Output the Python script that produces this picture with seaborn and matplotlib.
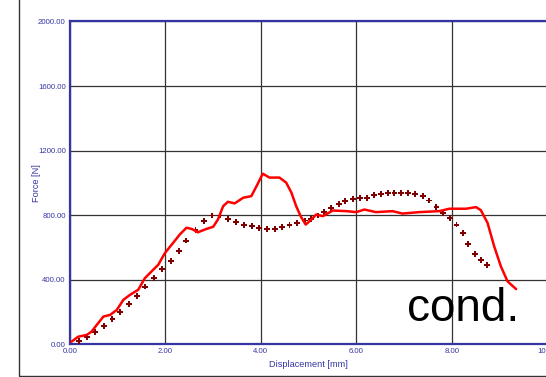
import matplotlib
matplotlib.use("Agg")
import matplotlib.pyplot as plt
from matplotlib.patches import Rectangle
import seaborn as sns
import pandas as pd

# Measured force-displacement curve
disp_curve = [0.03, 0.17, 0.35, 0.45, 0.56, 0.70, 0.84, 0.98, 1.12, 1.26, 1.43, 1.57,
              1.71, 1.85, 1.99, 2.16, 2.30, 2.44, 2.55, 2.68, 2.86, 3.00, 3.10, 3.21,
              3.31, 3.45, 3.63, 3.80, 3.91, 4.04, 4.18, 4.39, 4.53, 4.64, 4.74, 4.84,
              4.94, 5.06, 5.16, 5.30, 5.51, 5.79, 6.00, 6.17, 6.41, 6.76, 6.97, 7.32,
              7.74, 7.95, 8.30, 8.51, 8.61, 8.75, 8.89, 9.03, 9.17, 9.35]
force_curve = [16, 47, 58, 78, 120, 172, 182, 213, 276, 307, 338, 410,
               452, 493, 566, 628, 680, 722, 715, 694, 715, 728, 773, 856,
               883, 873, 908, 918, 980, 1057, 1033, 1033, 1002, 940, 856, 790,
               742, 773, 804, 794, 829, 825, 819, 835, 819, 825, 810, 819,
               825, 840, 840, 850, 831, 753, 607, 483, 390, 342]

# Reference (dotted) curve
disp_ref = [0.19, 0.36, 0.52, 0.71, 0.89, 1.05, 1.24, 1.41, 1.58, 1.76, 1.93, 2.11,
            2.28, 2.44, 2.63, 2.80, 2.98, 3.14, 3.31, 3.47, 3.64, 3.81, 3.96, 4.13,
            4.29, 4.44, 4.60, 4.76, 4.92, 5.06, 5.20, 5.33, 5.47, 5.63, 5.77, 5.93,
            6.07, 6.22, 6.37, 6.52, 6.66, 6.80, 6.94, 7.08, 7.23, 7.39, 7.53, 7.68,
            7.82, 7.96, 8.10, 8.23, 8.35, 8.48, 8.61, 8.74]
force_ref = [22, 47, 78, 114, 155, 199, 251, 302, 358, 410, 466, 518,
             576, 643, 707, 763, 798, 798, 779, 757, 738, 732, 723, 715,
             715, 725, 738, 753, 767, 779, 798, 821, 846, 871, 887, 898,
             904, 908, 925, 933, 939, 939, 939, 939, 933, 918, 891, 850,
             815, 784, 742, 690, 622, 562, 524, 493]

x_ticks = [0, 2, 4, 6, 8, 10]
y_ticks = [0, 400, 800, 1200, 1600, 2000]
x_ticklabels = ["0.00", "2.00", "4.00", "6.00", "8.00", "10.00"]
y_ticklabels = ["0.00", "400.00", "800.00", "1200.00", "1600.00", "2000.00"]

sns.set_style("white")
plt.rcParams["font.family"] = ["Liberation Sans", "DejaVu Sans"]

blue = "#3535a5"
fig = plt.figure(figsize=(5.46, 3.77), dpi=100)
ax = fig.add_axes([0.1282, 0.0867, 0.8739, 0.8563])

# outer frame
fig.patches.append(Rectangle((18.5 / 546, 1.0 / 377), 1.2, 1.2, transform=fig.transFigure,
                             fill=False, edgecolor="#333333", linewidth=1.0, zorder=0))

df_curve = pd.DataFrame({"d": disp_curve, "f": force_curve})
df_ref = pd.DataFrame({"d": disp_ref, "f": force_ref})

sns.scatterplot(data=df_ref, x="d", y="f", ax=ax, marker="P", s=18, color="#7f0000",
                edgecolor="none", zorder=3)
sns.lineplot(data=df_curve, x="d", y="f", ax=ax, sort=False, color="#ff0000",
             linewidth=1.8, zorder=4)

ax.set_xlim(0, 10)
ax.set_ylim(0, 2000)
ax.set_xticks(x_ticks)
ax.set_yticks(y_ticks)
ax.set_xticklabels(x_ticklabels)
ax.set_yticklabels(y_ticklabels)
ax.tick_params(axis="both", length=0, labelsize=5.6, labelcolor=blue, pad=3)
ax.grid(True, color="#333333", linewidth=0.9)
ax.set_axisbelow(True)

for side in ["left", "top", "bottom"]:
    ax.spines[side].set_color(blue)
    ax.spines[side].set_linewidth(1.6)
ax.spines["right"].set_visible(False)

ax.set_xlabel("Displacement [mm]", fontsize=6.6, color=blue, labelpad=3)
ax.set_ylabel("Force [N]", fontsize=6.6, color=blue)
ax.yaxis.set_label_coords(-29 / 477.1, 0.5)

fig.text(407 / 546, 1 - 321 / 377, "cond.", fontsize=33, color="black",
         ha="left", va="baseline")

fig.savefig("out.png", dpi=100)
